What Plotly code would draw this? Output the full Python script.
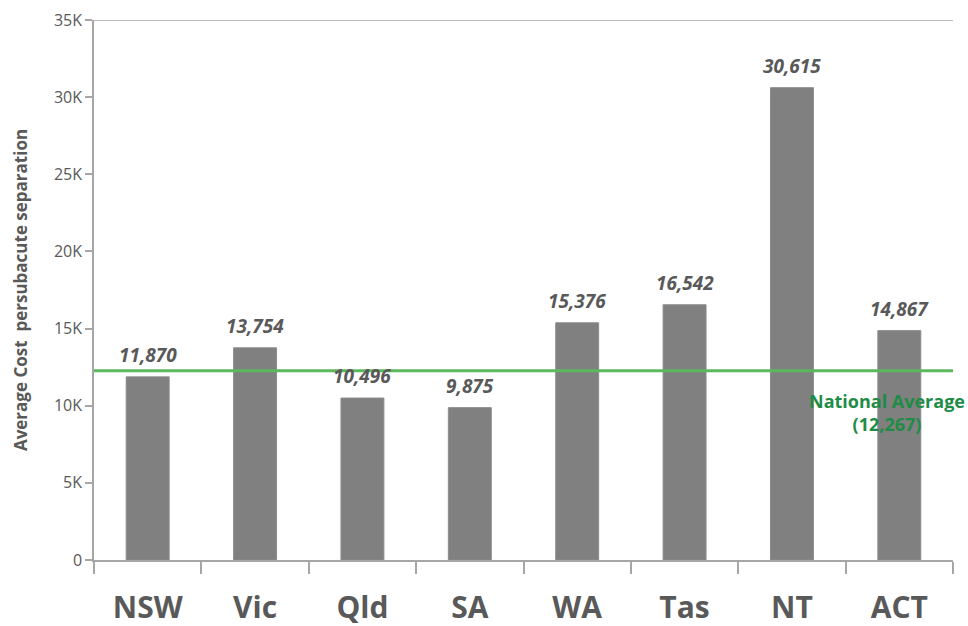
import plotly.graph_objects as go

states = ["NSW", "Vic", "Qld", "SA", "WA", "Tas", "NT", "ACT"]
costs = [11870, 13754, 10496, 9875, 15376, 16542, 30615, 14867]
national_average = 12267
y_tickvals = [0, 5000, 10000, 15000, 20000, 25000, 30000, 35000]
y_ticktext = ["0", "5K", "10K", "15K", "20K", "25K", "30K", "35K"]

FONT = "Open Sans"
GREY_TXT = "#595959"
AX = "#A6A6A6"

fig = go.Figure()
fig.add_trace(go.Bar(
    x=states, y=costs,
    marker=dict(color="#808080", line=dict(color="#8C8C8C", width=1)),
    width=0.4, showlegend=False, hoverinfo="x+y",
))

# national average line
fig.add_shape(type="line", xref="paper", yref="y", x0=0, x1=1,
              y0=national_average, y1=national_average,
              line=dict(color="#5CB85C", width=3), layer="above")
# top border at 35K
fig.add_shape(type="line", xref="paper", yref="y", x0=-0.008, x1=1,
              y0=35000, y1=35000, line=dict(color=AX, width=1.5))

for s, v in zip(states, costs):
    fig.add_annotation(x=s, y=v, text=f"<b><i>{v:,}</i></b>", showarrow=False,
                       yanchor="bottom", yshift=7,
                       font=dict(family=FONT, size=19, color=GREY_TXT))

fig.add_annotation(x=7, y=national_average, xref="x", yref="y",
                   text=f"<b>National Average<br>({national_average:,})</b>",
                   showarrow=False, yanchor="top", yshift=-16, xshift=-12,
                   align="center",
                   font=dict(family=FONT, size=18, color="#1E8C46"))

fig.update_layout(
    width=968, height=626,
    margin=dict(l=94, r=15, t=20, b=66),
    paper_bgcolor="white", plot_bgcolor="white",
    bargap=0.6,
    xaxis=dict(
        automargin=False,
        range=[-0.5, len(states) - 0.5],
        showline=True, linecolor=AX, linewidth=1.5,
        ticks="outside", tickson="boundaries", ticklen=12, tickcolor=AX, tickwidth=1.5,
        tickfont=dict(family=FONT, size=30, color=GREY_TXT, weight="bold"),
        ticklabelstandoff=20,
        showgrid=False, zeroline=False,
    ),
    yaxis=dict(
        automargin=False,
        range=[0, 35000],
        tickvals=y_tickvals, ticktext=y_ticktext,
        showline=True, linecolor=AX, linewidth=1.5,
        ticks="outside", ticklen=7, tickcolor=AX, tickwidth=1.5,
        tickfont=dict(family=FONT, size=16, color=GREY_TXT),
        showgrid=False, zeroline=False,
        title=dict(text="<b>Average Cost  persubacute separation</b>",
                   font=dict(family=FONT, size=17, color=GREY_TXT), standoff=22),
    ),
)

fig.write_html(
    "out.html",
    config={"displayModeBar": False},
    post_script="document.body.style.margin='0';document.body.style.overflow='hidden';",
)
